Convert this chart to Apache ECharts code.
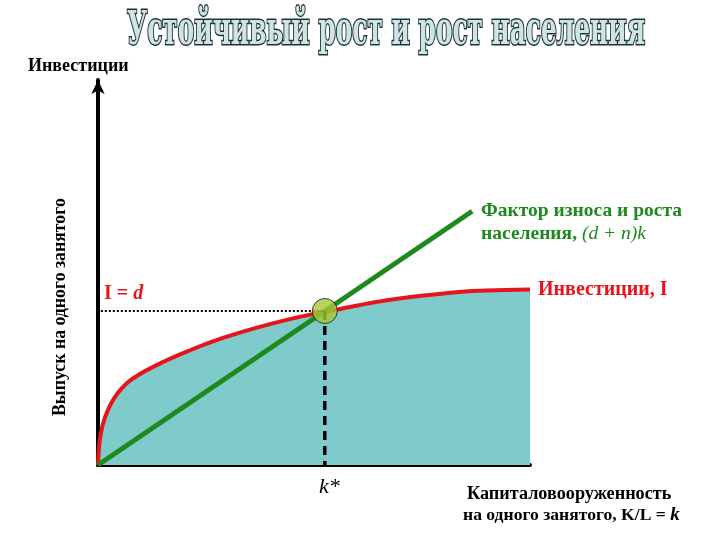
<!DOCTYPE html>
<html><head><meta charset="utf-8">
<script src="https://cdn.jsdelivr.net/npm/echarts@6/dist/echarts.min.js"></script>
<style>html,body{margin:0;padding:0;background:#fff}#c{width:720px;height:540px}</style>
</head><body><div id="c"></div>
<script>
// Data
const kValues = [0, 0.5, 1.6, 3.9, 7.4, 13.7, 21.3, 28.9, 36.8, 44.4, 50.7, 54.9, 66.9, 82.2, 90, 100];
const investValues = [0, 7.2, 12.3, 17.6, 21.9, 26.0, 29.8, 33.0, 35.7, 37.9, 39.4, 40.3, 42.8, 44.8, 45.3, 45.6];
const depK = [0, 86.6];
const depValues = [0, 65.9];
const kStar = 52.5;
const iStar = 40;
const titleText = 'Устойчивый рост и рост населения';

function measure(font, text){
  const c = document.createElement('canvas').getContext('2d');
  c.font = font; return c.measureText(text).width;
}
const titleFont = 'bold 46px "DejaVu Serif Condensed", "DejaVu Serif"';
const titleScaleX = 518 / measure(titleFont, titleText);

const chart = echarts.init(document.getElementById('c'), null, {renderer:'canvas'});
const serif = '"Liberation Serif", "Times New Roman", serif';
const green = '#1e8a1e';
const red = '#e8141c';

chart.setOption({
  animation:false,
  backgroundColor:'#fff',
  grid:{left:98, right:190, top:80, bottom:75},
  xAxis:{type:'value', min:0, max:100, axisLine:{show:true, onZero:false, lineStyle:{color:'#000', width:4}},
    axisTick:{show:false}, axisLabel:{show:false}, splitLine:{show:false}},
  yAxis:{type:'value', min:0, max:100, axisLine:{show:true, onZero:false, symbol:['none','arrow'], symbolSize:[10,14],
    lineStyle:{color:'#000', width:4}}, axisTick:{show:false}, axisLabel:{show:false}, splitLine:{show:false}},
  series:[
    {type:'line', data:kValues.map((k,i)=>[k, investValues[i]]), smooth:0.4, showSymbol:false,
      lineStyle:{color:red, width:4}, areaStyle:{color:'#7fcaca', opacity:1}, z:2},
    {type:'line', data:depK.map((k,i)=>[k, depValues[i]]), showSymbol:false, lineStyle:{color:green, width:5}, z:3},
    {type:'line', data:[[-1.2, iStar],[kStar, iStar]], showSymbol:false, clip:false,
      lineStyle:{color:'#000', width:2, type:[2,2]}, z:4},
    {type:'line', data:[[kStar, iStar],[kStar, 0]], showSymbol:false,
      lineStyle:{color:'#000', width:3.5, type:[9,6]}, z:4},
    {type:'scatter', data:[[kStar, iStar]], symbolSize:25, itemStyle:{color:'#a6c832', borderColor:'#1a1a1a', borderWidth:1}, z:5}
  ],
  graphic:[
    {type:'text', x:127, y:8, scaleX:titleScaleX, scaleY:1.02, style:{text:titleText, font:titleFont,
      fill:'#cfe4e4', stroke:'#1e3232', lineWidth:3}},
    {type:'text', x:28, y:57, style:{text:'Инвестиции', font:'bold 18px '+serif, fill:'#000'}},
    {type:'text', x:51, y:416, rotation:Math.PI/2, style:{text:'Выпуск на одного занятого', font:'bold 17.8px '+serif, fill:'#000'}},
    {type:'text', x:481, y:201, style:{text:'Фактор износа и роста', font:'bold 19.5px '+serif, fill:green}},
    {type:'text', x:481, y:224, style:{text:'{a|населения, }{b|(d + n)k}', rich:{
      a:{font:'bold 19.5px '+serif, fill:green}, b:{font:'italic 19.5px '+serif, fill:green}}}},
    {type:'text', x:104, y:284, style:{text:'{a|I = }{b|d}', rich:{
      a:{font:'bold 20px '+serif, fill:red}, b:{font:'italic bold 20px '+serif, fill:red}}}},
    {type:'text', x:538, y:280, style:{text:'Инвестиции, I', font:'bold 20px '+serif, fill:red}},
    {type:'text', x:319, y:476, style:{text:'k*', font:'italic 22px '+serif, fill:'#000'}},
    {type:'text', x:467, y:485, style:{text:'Капиталовооруженность', font:'bold 18.2px '+serif, fill:'#000'}},
    {type:'text', x:463, y:506, style:{text:'{a|на одного занятого, K/L = }{b|k}', rich:{
      a:{font:'bold 17.6px '+serif, fill:'#000'}, b:{font:'italic bold 19px '+serif, fill:'#000'}}}}
  ]
});
</script></body></html>
